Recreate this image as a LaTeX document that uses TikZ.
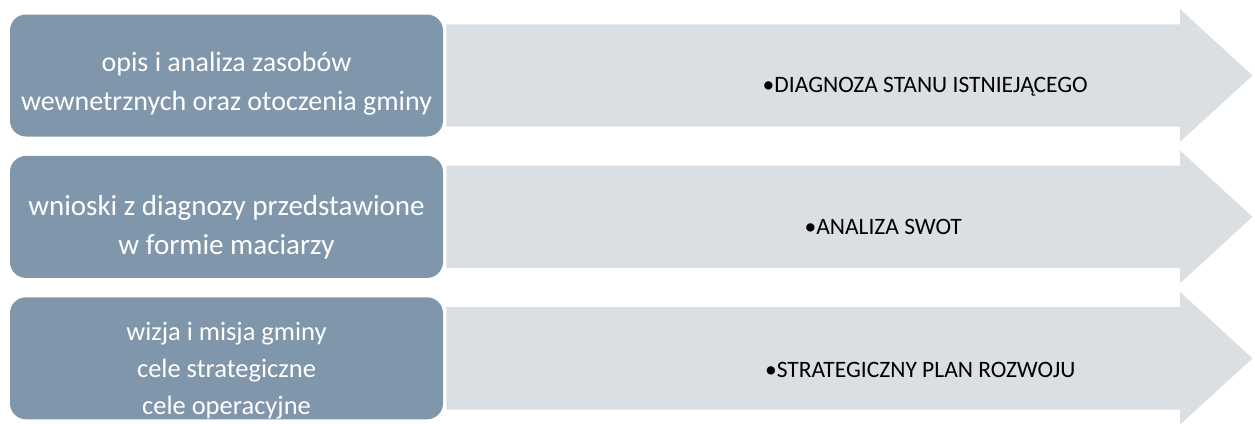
\documentclass[tikz,border=0pt]{standalone}
\usepackage{fontspec}
\setmainfont{Carlito}
\usetikzlibrary{positioning,shapes.arrows}
\definecolor{stageblue}{RGB}{127,150,171}
\definecolor{bandgray}{RGB}{218,223,228}

\begin{document}
\begin{tikzpicture}[
  stage/.style={rectangle, rounded corners=16pt, fill=stageblue,
    minimum width=433pt, minimum height=122pt, inner sep=0pt},
  stagetext/.style={text=white, align=center},
  band/.style={single arrow, fill=bandgray, minimum height=806pt,
    minimum width=132pt, single arrow head extend=15pt,
    single arrow tip angle=85, inner xsep=0pt, inner ysep=51pt},
  tag/.style={font=\fontsize{23.5}{28}\selectfont, text=black}]
 \useasboundingbox (0,0) rectangle (1255pt,-423pt);
 % left column
 \node[stage] (s1) at (226.5pt,-75.5pt) {};
 \node[stage, below=19pt of s1] (s2) {};
 \node[stage, below=19pt of s2] (s3) {};
 \node[stagetext, font=\fontsize{28}{39}\selectfont] (l1) at ([yshift=-8pt]s1.center)
  {opis i analiza zasobów\\wewnetrznych oraz otoczenia gminy};
 \node[stagetext, font=\fontsize{29}{39}\selectfont] (l2) at ([yshift=-10pt]s2.center)
  {wnioski z diagnozy przedstawione\\w formie maciarzy};
 \node[stagetext, font=\fontsize{26.5}{37}\selectfont] (l3) at ([yshift=-12pt]s3.center)
  {wizja i misja gminy\\cele strategiczne\\cele operacyjne};
 % arrows
 \node[band, right=3pt of s1] (a1) {};
 \node[band, right=3pt of s2] (a2) {};
 \node[band, right=3pt of s3] (a3) {};
 \node[tag] (t1) at ([xshift=479pt, yshift=-11pt]a1.tail) {•DIAGNOZA STANU ISTNIEJĄCEGO};
 \node[tag] (t2) at ([xshift=437pt, yshift=-10pt]a2.tail) {•ANALIZA SWOT};
 \node[tag] (t3) at ([xshift=474pt, yshift=-12pt]a3.tail) {•STRATEGICZNY PLAN ROZWOJU};
\end{tikzpicture}
\end{document}
